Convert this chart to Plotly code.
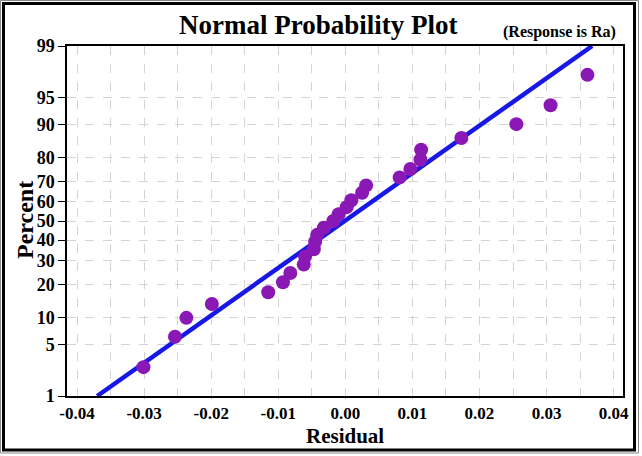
import plotly.graph_objects as go
from statistics import NormalDist

# ---- data ----
residuals = [-0.0301, -0.0254, -0.0237, -0.0199, -0.0115, -0.0093, -0.0082,
             -0.0062, -0.0060, -0.0047, -0.0045, -0.0042, -0.0032, -0.0018,
             -0.0010, 0.0002, 0.0009, 0.0025, 0.0031, 0.0081, 0.0097,
             0.0112, 0.0113, 0.0173, 0.0255, 0.0306, 0.0361]
percents = [2.6, 6.2, 9.9, 13.5, 17.2, 20.8, 24.5, 28.1, 31.8, 35.4, 39.1,
            42.7, 46.4, 50.0, 53.6, 57.3, 60.9, 64.6, 68.2, 71.9, 75.5,
            79.2, 82.8, 86.5, 90.1, 93.8, 97.4]
fit_x = [-0.0370, 0.0368]
fit_pct = [1, 99]
y_ticks_pct = [1, 5, 10, 20, 30, 40, 50, 60, 70, 80, 90, 95, 99]
x_ticks = [-0.04, -0.03, -0.02, -0.01, 0.0, 0.01, 0.02, 0.03, 0.04]

nd = NormalDist()
z = lambda p: nd.inv_cdf(p / 100.0)

W, H = 642, 456
L, R, T, B = 67, 19, 46, 60
pw, ph = W - L - R, H - T - B
px = lambda x: (x - L) / pw
py = lambda y: (H - B - y) / ph

serif = "Liberation Serif, Times New Roman, serif"

fig = go.Figure()
fig.add_trace(go.Scatter(
    x=fit_x, y=[z(p) for p in fit_pct], mode="lines",
    line=dict(color="#1818E6", width=4.5), hoverinfo="skip", showlegend=False))
fig.add_trace(go.Scatter(
    x=residuals, y=[z(p) for p in percents], mode="markers",
    marker=dict(color="#8A18B4", size=14, line=dict(width=0)),
    showlegend=False))

fig.update_layout(
    width=W, height=H,
    margin=dict(l=L, r=R, t=T, b=B, autoexpand=False),
    paper_bgcolor="white", plot_bgcolor="white",
    font=dict(family=serif, color="black"),
    xaxis=dict(
        range=[-0.0415, 0.0414], tickvals=x_ticks,
        ticktext=[f"{v:.2f}" for v in x_ticks],
        tickfont=dict(family=serif, size=17, color="black", weight="bold"),
        showgrid=True, gridcolor="#d4d4d4", griddash="dash", gridwidth=1,
        minor=dict(tickvals=[v + 0.005 for v in x_ticks[:-1]], showgrid=True,
                   gridcolor="#d4d4d4", griddash="dash", gridwidth=1),
        showline=True, linecolor="black", linewidth=1.5, mirror=True,
        ticks="outside", ticklen=1, tickcolor="#bbbbbb",
        zeroline=False, automargin=False,
    ),
    yaxis=dict(
        range=[z(1), z(99)], tickvals=[z(p) for p in y_ticks_pct],
        ticktext=[str(p) for p in y_ticks_pct],
        tickfont=dict(family=serif, size=18, color="black", weight="bold"),
        showgrid=True, gridcolor="#d4d4d4", griddash="dash", gridwidth=1,
        showline=True, linecolor="black", linewidth=1.5, mirror=True,
        ticks="outside", ticklen=7, tickcolor="black",
        zeroline=False, automargin=False,
    ),
    annotations=[
        dict(text="<b>Normal Probability Plot</b>", xref="paper", yref="paper",
             x=px(318), y=py(25), xanchor="center", yanchor="middle",
             showarrow=False, font=dict(family=serif, size=27, color="black")),
        dict(text="<b>(Response is Ra)</b>", xref="paper", yref="paper",
             x=px(618), y=py(32), xanchor="right", yanchor="middle",
             showarrow=False, font=dict(family=serif, size=16, color="black")),
        dict(text="<b>Residual</b>", xref="paper", yref="paper",
             x=px(345), y=py(436), xanchor="center", yanchor="middle",
             showarrow=False, font=dict(family=serif, size=21, color="black")),
        dict(text="<b>Percent</b>", xref="paper", yref="paper",
             x=px(25), y=py(220), xanchor="center", yanchor="middle",
             textangle=-90,
             showarrow=False, font=dict(family=serif, size=24, color="black")),
    ],
    shapes=[
        dict(type="rect", xref="paper", yref="paper",
             x0=px(0.5), x1=px(638.5), y0=py(0.5), y1=py(453),
             line=dict(color="#888888", width=1)),
        dict(type="rect", xref="paper", yref="paper",
             x0=px(3.5), x1=px(634.5), y0=py(3.5), y1=py(450),
             line=dict(color="black", width=3)),
    ],
)

fig.write_html("out.html",
               config={"displayModeBar": False},
               post_script="document.body.style.margin='0';"
                           "document.body.style.overflow='hidden';")
